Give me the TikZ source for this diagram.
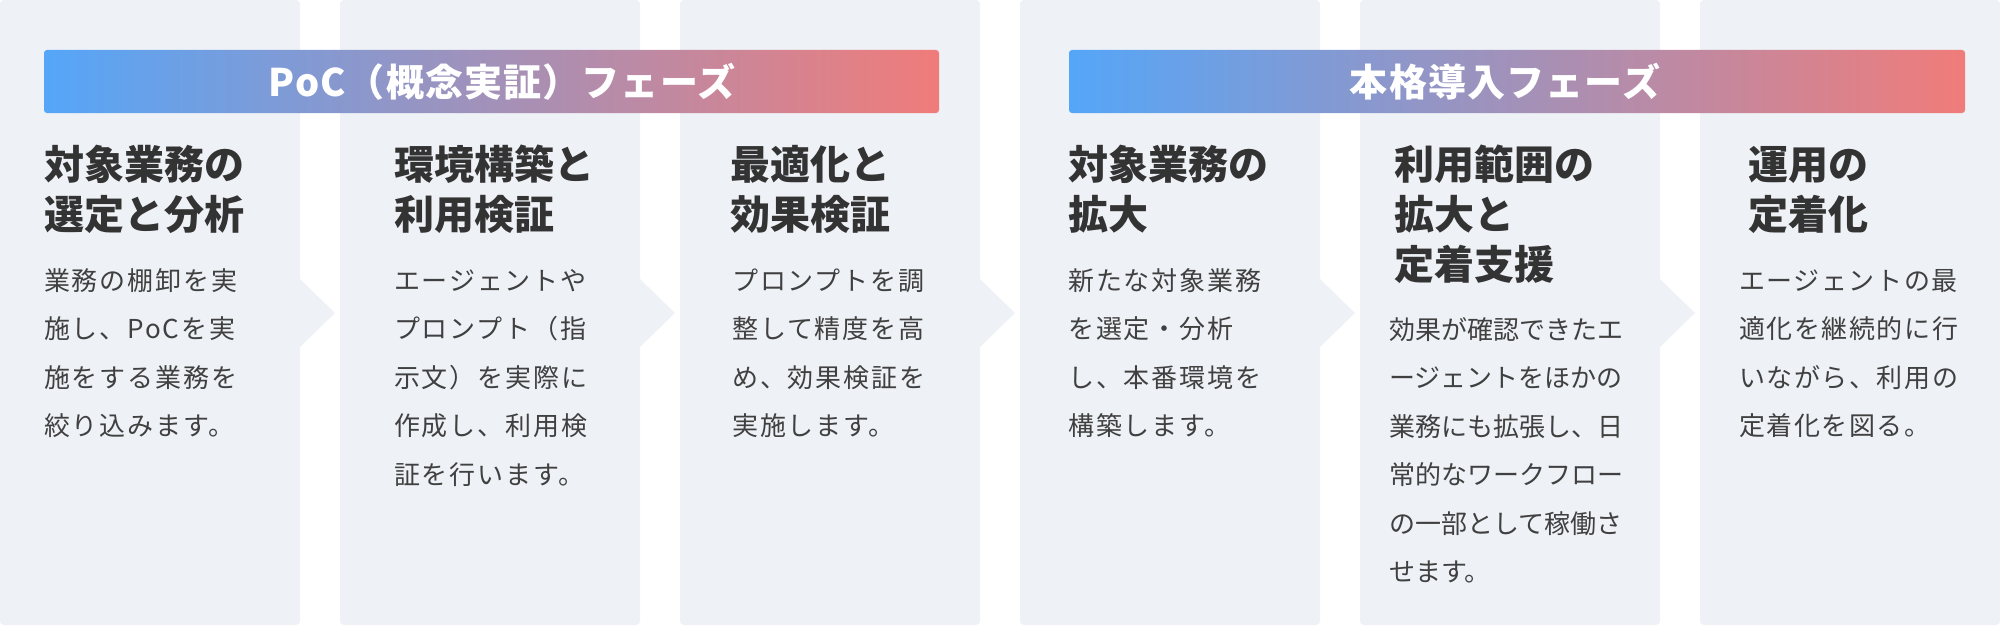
\documentclass[tikz,border=0pt]{standalone}
\usepackage{fontspec}
\setmainfont{Noto Sans CJK JP}
\definecolor{panelbg}{HTML}{EEF1F6}
\definecolor{ink}{HTML}{333333}
\definecolor{bodyink}{HTML}{404040}
\definecolor{bandL}{HTML}{55A6F8}
\definecolor{bandR}{HTML}{F07C7A}
\setlength{\lineskiplimit}{-100pt}
\begin{document}
\begin{tikzpicture}[x=1pt, y=-1pt,
	panel/.style={fill=panelbg},
	band/.style={left color=bandL, right color=bandR, rounded corners=3pt},
	bandtxt/.style={anchor=base, inner sep=0pt, text=white, font=\fontsize{38}{40}\selectfont\bfseries\addfontfeature{LetterSpace=3}},
	ttl/.style={anchor=base west, inner sep=0pt, align=left, text=ink, font=\fontsize{40}{50}\selectfont\bfseries},
	txt/.style={anchor=base west, inner sep=0pt, align=left, text=bodyink, font=\fontsize{26}{48.5}\selectfont\addfontfeature{LetterSpace=#1}},
	txt/.default=7]
		\def\pw{300} \def\gap{40} \def\ah{35} \def\ym{313}
		\useasboundingbox (0,0) rectangle (2000,626);
		% six columns, chevrons on the first five
		\foreach \i in {0,...,5}{
			\pgfmathsetmacro\xl{\i*(\pw+\gap)}
			\pgfmathsetmacro\xr{\xl+\pw}
			\fill[panel, rounded corners=4pt] (\xl,0) rectangle (\xr,625);
			\ifnum\i<5
				\fill[panel] (\xr-1,\ym-\ah) -- (\xr+\ah,\ym) -- (\xr-1,\ym+\ah) -- cycle;
			\fi
		}
		\shade[band] (44,50) rectangle (939,113);
		\shade[band] (1069,50) rectangle (1965,113);
		\node[bandtxt] (poc) at (502,96) {PoC（概念実証）フェーズ};
		\node[bandtxt] (prod) at (1505,96) {本格導入フェーズ};
		% base anchor sits on the last line
		\node[ttl] (t1) at (44,229) {対象業務の\\選定と分析};
		\node[ttl] (t2) at (394,229) {環境構築と\\利用検証};
		\node[ttl] (t3) at (730,229) {最適化と\\効果検証};
		\node[ttl] (t4) at (1068,229) {対象業務の\\拡大};
		\node[ttl] (t5) at (1394,279) {利用範囲の\\拡大と\\定着支援};
		\node[ttl] (t6) at (1748,229) {運用の\\定着化};
		\node[txt] (b1) at (44,435.5) {業務の棚卸を実\\施し、PoCを実\\施をする業務を\\絞り込みます。};
		\node[txt] (b2) at (394,484) {エージェントや\\プロンプト（指\\示文）を実際に\\作成し、利用検\\証を行います。};
		\node[txt] (b3) at (732,435.5) {プロンプトを調\\整して精度を高\\め、効果検証を\\実施します。};
		\node[txt] (b4) at (1068,435.5) {新たな対象業務\\を選定・分析\\し、本番環境を\\構築します。};
		\node[txt=0] (b5) at (1389,581.5) {効果が確認できたエ\\ージェントをほかの\\業務にも拡張し、日\\常的なワークフロー\\の一部として稼働さ\\せます。};
		\node[txt=6] (b6) at (1739,435.5) {エージェントの最\\適化を継続的に行\\いながら、利用の\\定着化を図る。};
\end{tikzpicture}
\end{document}
